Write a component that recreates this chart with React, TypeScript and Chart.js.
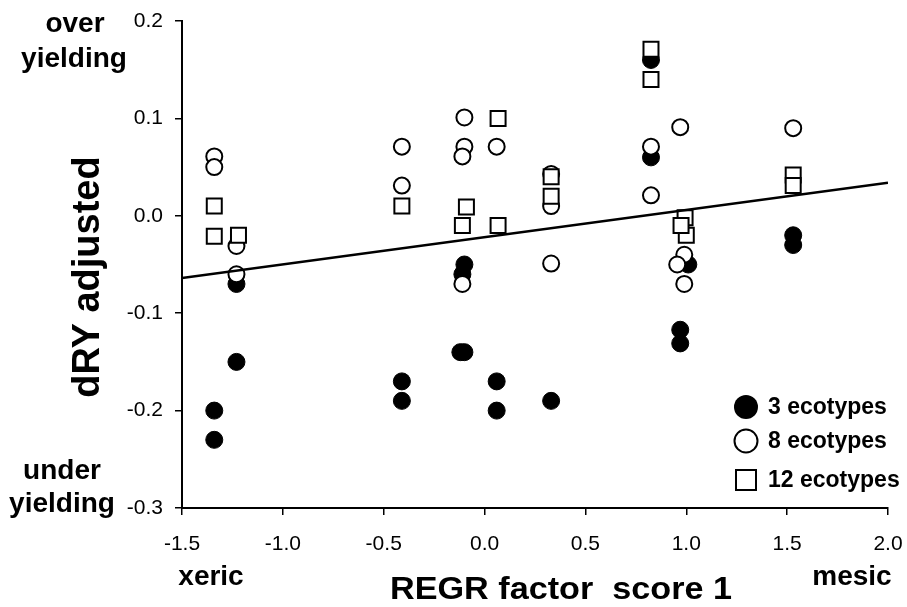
import React, { useEffect, useRef } from "react";
import { Chart, registerables } from "chart.js";

Chart.register(...registerables);

// Axis ticks
const xTickValues = [-1.5, -1.0, -0.5, 0.0, 0.5, 1.0, 1.5, 2.0];
const yTickValues = [-0.3, -0.2, -0.1, 0.0, 0.1, 0.2];

// Series labels
const seriesLabels = ["3 ecotypes", "8 ecotypes", "12 ecotypes"];

// 3 ecotypes (filled circles)
const eco3X = [-1.34, -1.34, -1.23, -1.23, -0.41, -0.41, -0.1, -0.11, -0.12, -0.1, 0.06, 0.06, 0.33, 0.825, 0.825, 0.97, 0.97, 1.01, 1.53, 1.53];
const eco3Y = [-0.2, -0.23, -0.07, -0.15, -0.17, -0.19, -0.05, -0.06, -0.14, -0.14, -0.17, -0.2, -0.19, 0.16, 0.06, -0.117, -0.131, -0.05, -0.02, -0.03];

// 8 ecotypes (open circles)
const eco8X = [-1.34, -1.34, -1.23, -1.23, -0.41, -0.41, -0.1, -0.1, -0.11, -0.11, 0.06, 0.33, 0.33, 0.33, 0.825, 0.825, 0.97, 1.53, 0.99, 0.955, 0.99];
const eco8Y = [0.061, 0.05, -0.031, -0.06, 0.071, 0.031, 0.101, 0.071, 0.061, -0.07, 0.071, 0.043, 0.01, -0.049, 0.071, 0.021, 0.091, 0.09, -0.04, -0.05, -0.07];

// 12 ecotypes (open squares)
const eco12X = [-1.34, -1.34, -1.22, -0.41, -0.09, -0.11, 0.067, 0.067, 0.33, 0.33, 0.825, 0.825, 0.994, 1.0, 0.974, 1.53, 1.53];
const eco12Y = [0.01, -0.021, -0.02, 0.01, 0.009, -0.01, 0.1, -0.01, 0.04, 0.02, 0.171, 0.14, -0.002, -0.02, -0.01, 0.042, 0.031];

// Regression line end points
const fitX = [-1.5, 2.0];
const fitY = [-0.064, 0.034];

const FF = "'Liberation Sans', Arial, Helvetica, sans-serif";

const toPoints = (xs: number[], ys: number[]) => xs.map((x, i) => ({ x, y: ys[i] }));

const annotationPlugin = {
  id: "annotations",
  afterDraw(chart: any) {
    const ctx: CanvasRenderingContext2D = chart.ctx;
    ctx.save();
    ctx.fillStyle = "#000";
    ctx.textAlign = "center";
    ctx.textBaseline = "alphabetic";
    ctx.font = `bold 28px ${FF}`;
    ctx.fillText("over", 75, 32);
    ctx.fillText("yielding", 74, 67);
    ctx.fillText("under", 62, 479);
    ctx.fillText("yielding", 62, 512);
    ctx.fillText("xeric", 211, 585);
    ctx.fillText("mesic", 852, 585);

    // x-axis title
    ctx.font = `bold 31px ${FF}`;
    const xt = "REGR factor  score 1";
    const w = ctx.measureText(xt).width;
    ctx.save();
    ctx.translate(561, 599);
    ctx.scale(342 / w, 1);
    ctx.fillText(xt, 0, 0);
    ctx.restore();

    // y-axis title
    ctx.save();
    ctx.translate(99, 277);
    ctx.rotate(-Math.PI / 2);
    ctx.font = `bold 38px ${FF}`;
    ctx.fillText("dRY adjusted", 0, 0);
    ctx.restore();

    // legend
    const lx = 746;
    const ys = [407, 441, 480];
    ctx.lineWidth = 2;
    ctx.strokeStyle = "#000";
    ctx.beginPath();
    ctx.arc(lx, ys[0], 12, 0, Math.PI * 2);
    ctx.fillStyle = "#000";
    ctx.fill();
    ctx.beginPath();
    ctx.arc(lx, ys[1], 11.5, 0, Math.PI * 2);
    ctx.fillStyle = "#fff";
    ctx.fill();
    ctx.stroke();
    ctx.beginPath();
    ctx.rect(lx - 10, ys[2] - 10, 20, 20);
    ctx.fill();
    ctx.stroke();

    ctx.fillStyle = "#000";
    ctx.font = `bold 23px ${FF}`;
    ctx.textAlign = "left";
    ctx.textBaseline = "middle";
    seriesLabels.forEach((l, i) => ctx.fillText(l, 768, ys[i] + 1));
    ctx.restore();
  },
};

export default function App() {
  const canvasRef = useRef<HTMLCanvasElement | null>(null);

  useEffect(() => {
    if (!canvasRef.current) return;
    const chart = new Chart(canvasRef.current, {
      type: "scatter",
      data: {
        datasets: [
          {
            type: "line",
            label: "fit",
            data: toPoints(fitX, fitY),
            borderColor: "#000",
            borderWidth: 2.5,
            pointRadius: 0,
            fill: false,
            order: 0,
          } as any,
          {
            label: seriesLabels[2],
            data: toPoints(eco12X, eco12Y),
            pointStyle: "rect",
            pointRadius: 10.6,
            backgroundColor: "#fff",
            borderColor: "#000",
            borderWidth: 2,
            order: 1,
          },
          {
            label: seriesLabels[1],
            data: toPoints(eco8X, eco8Y),
            pointStyle: "circle",
            pointRadius: 8,
            backgroundColor: "#fff",
            borderColor: "#000",
            borderWidth: 2,
            order: 2,
          },
          {
            label: seriesLabels[0],
            data: toPoints(eco3X, eco3Y),
            pointStyle: "circle",
            pointRadius: 8.5,
            backgroundColor: "#000",
            borderColor: "#000",
            borderWidth: 1,
            order: 3,
          },
        ],
      },
      options: {
        responsive: false,
        animation: false,
        layout: { padding: { left: 0, top: 21, right: 19, bottom: 0 } },
        plugins: {
          legend: { display: false },
          tooltip: { enabled: false },
        },
        scales: {
          x: {
            type: "linear",
            min: -1.5,
            max: 2.0,
            afterBuildTicks: (s: any) => {
              s.ticks = xTickValues.map((v) => ({ value: v }));
            },
            afterFit: (s: any) => {
              s.height = 99;
              s.paddingLeft = 0;
              s.paddingRight = 0;
            },
            ticks: {
              color: "#000",
              font: { family: FF, size: 21 },
              padding: 17,
              maxRotation: 0,
              callback: (v: any) => Number(v).toFixed(1),
            },
            grid: {
              display: true,
              drawOnChartArea: false,
              drawTicks: true,
              tickLength: 7,
              color: "#000",
              lineWidth: 1.5,
            },
            border: { display: true, color: "#000", width: 2 },
          },
          y: {
            type: "linear",
            min: -0.3,
            max: 0.2,
            afterBuildTicks: (s: any) => {
              s.ticks = yTickValues.map((v) => ({ value: v }));
            },
            afterFit: (s: any) => {
              s.width = 182;
              s.paddingTop = 0;
              s.paddingBottom = 0;
            },
            ticks: {
              color: "#000",
              font: { family: FF, size: 21 },
              padding: 12,
              callback: (v: any) => Number(v).toFixed(1),
            },
            grid: {
              display: true,
              drawOnChartArea: false,
              drawTicks: true,
              tickLength: 7,
              color: "#000",
              lineWidth: 1.5,
            },
            border: { display: true, color: "#000", width: 2 },
          },
        },
      },
      plugins: [annotationPlugin],
    });
    return () => chart.destroy();
  }, []);

  return (
    <div style={{ position: "absolute", left: 0, top: 0, width: 907, height: 607, background: "#fff" }}>
      <canvas ref={canvasRef} width={907} height={607} style={{ display: "block" }} />
    </div>
  );
}
